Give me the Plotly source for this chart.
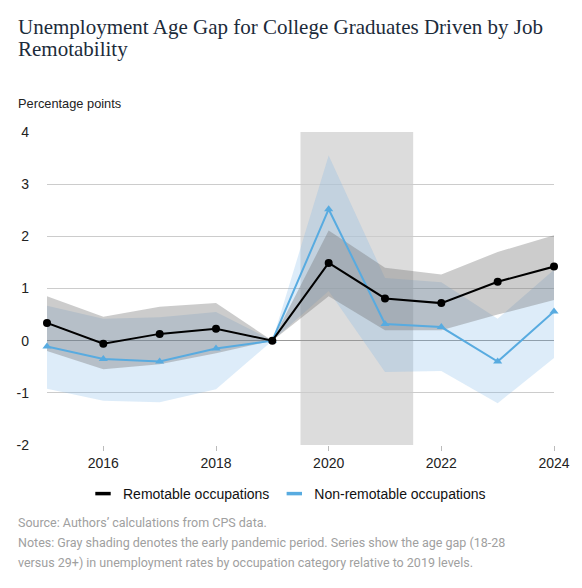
import plotly.graph_objects as go

years = [2015, 2016, 2017, 2018, 2019, 2020, 2021, 2022, 2023, 2024]
remote = [0.34, -0.06, 0.13, 0.23, 0.0, 1.49, 0.81, 0.72, 1.13, 1.42]
remote_hi = [0.85, 0.46, 0.65, 0.72, 0.0, 2.11, 1.40, 1.27, 1.70, 2.02]
remote_lo = [-0.20, -0.55, -0.45, -0.24, 0.0, 0.85, 0.20, 0.20, 0.50, 0.78]
nonrem = [-0.11, -0.35, -0.40, -0.15, 0.0, 2.52, 0.32, 0.26, -0.40, 0.56]
nonrem_hi = [0.67, 0.42, 0.45, 0.55, 0.0, 3.55, 1.20, 1.12, 0.42, 1.36]
nonrem_lo = [-0.92, -1.15, -1.18, -0.93, 0.0, 0.95, -0.60, -0.58, -1.20, -0.33]
pandemic = [2019.5, 2021.5]
x_ticks = [2016, 2018, 2020, 2022, 2024]
y_ticks = [-2, -1, 0, 1, 2, 3, 4]
y_tick_labels = ["-2", "-1", "0", "1", "2", "3", "4"]
title_lines = ["Unemployment Age Gap for College Graduates Driven by Job", "Remotability"]

BLUE = "#58abe0"
OFF = 8  # page body margin
W, H = 582 - OFF, 588 - OFF
L, T = 47 - OFF, 132 - OFF
R = W - (554 - OFF)
B = H - (445 - OFF)
pw, ph = W - L - R, H - T - B


def px_x(p):
    return (p - OFF - L) / pw


def px_y(p):
    return (H - B - (p - OFF)) / ph


fig = go.Figure()

fig.add_trace(go.Scatter(
    x=years + years[::-1], y=nonrem_hi + nonrem_lo[::-1],
    fill="toself", fillcolor="rgba(120,180,230,0.25)", line=dict(width=0),
    mode="lines", hoverinfo="skip", showlegend=False))
fig.add_trace(go.Scatter(
    x=years + years[::-1], y=remote_hi + remote_lo[::-1],
    fill="toself", fillcolor="rgba(110,110,110,0.35)", line=dict(width=0),
    mode="lines", hoverinfo="skip", showlegend=False))

fig.add_trace(go.Scatter(
    x=years, y=nonrem, mode="lines+markers",
    line=dict(color=BLUE, width=2),
    marker=dict(symbol="triangle-up", size=8, color=BLUE),
    cliponaxis=False, showlegend=False))
fig.add_trace(go.Scatter(
    x=years, y=remote, mode="lines+markers",
    line=dict(color="black", width=2),
    marker=dict(symbol="circle", size=8, color="black"),
    cliponaxis=False, showlegend=False))

# legend entries
fig.add_trace(go.Scatter(
    x=[None], y=[None], mode="markers", name="Remotable occupations",
    marker=dict(symbol="line-ew-open", size=11, color="black",
                line=dict(color="black", width=3.5))))
fig.add_trace(go.Scatter(
    x=[None], y=[None], mode="markers", name="Non-remotable occupations",
    marker=dict(symbol="line-ew-open", size=11, color=BLUE,
                line=dict(color=BLUE, width=3.5))))

fig.add_shape(type="rect", xref="x", yref="y",
              x0=pandemic[0], x1=pandemic[1], y0=-2, y1=4,
              fillcolor="#dcdcdc", line=dict(width=0), layer="below")

fig.update_layout(
    width=W, height=H,
    margin=dict(l=L, r=R, t=T, b=B, autoexpand=False),
    paper_bgcolor="white", plot_bgcolor="white",
    font=dict(family="Liberation Sans, Arial, sans-serif", size=14, color="#222222"),
    xaxis=dict(range=[2015, 2024], tickvals=x_ticks, showgrid=False,
               zeroline=False, showline=False, ticks="outside", ticklen=5,
               tickcolor="#bbbbbb", tickfont=dict(size=14, color="#222222")),
    yaxis=dict(range=[-2, 4], tickvals=y_ticks, ticktext=y_tick_labels,
               showgrid=True,
               gridcolor="#cccccc", gridwidth=1, zeroline=True,
               zerolinecolor="#999999", zerolinewidth=1, showline=False,
               ticklabelstandoff=17, tickfont=dict(size=14, color="#222222")),
    legend=dict(orientation="h", x=px_x(287), xanchor="center",
                y=px_y(494), yanchor="middle",
                font=dict(size=14, color="#111111"), itemwidth=30,
                bgcolor="rgba(0,0,0,0)"),
    showlegend=True,
)

for txt, yy in zip(title_lines, [27, 49]):
    fig.add_annotation(text=txt, xref="paper", yref="paper",
                       x=px_x(16), y=px_y(yy), xanchor="left", yanchor="middle",
                       showarrow=False,
                       font=dict(family="Liberation Serif, Georgia, serif", size=21,
                                 color="#1c2b3a"))

fig.add_annotation(text="Percentage points", xref="paper", yref="paper",
                   x=px_x(16), y=px_y(103), xanchor="left", yanchor="middle",
                   showarrow=False, font=dict(size=12.8, color="#222222"))

notes = [
    ("Source: Authors\u2019 calculations from CPS data.", 522),
    ("Notes: Gray shading denotes the early pandemic period. Series show the age gap (18-28", 542),
    ("versus 29+) in unemployment rates by occupation category relative to 2019 levels.", 562),
]
for txt, yy in notes:
    fig.add_annotation(text=txt, xref="paper", yref="paper",
                       x=px_x(16), y=px_y(yy), xanchor="left", yanchor="middle",
                       showarrow=False,
                       font=dict(family="Roboto, sans-serif", size=12.5, color="#a0a0a0"))

fig.write_html("out.html")
